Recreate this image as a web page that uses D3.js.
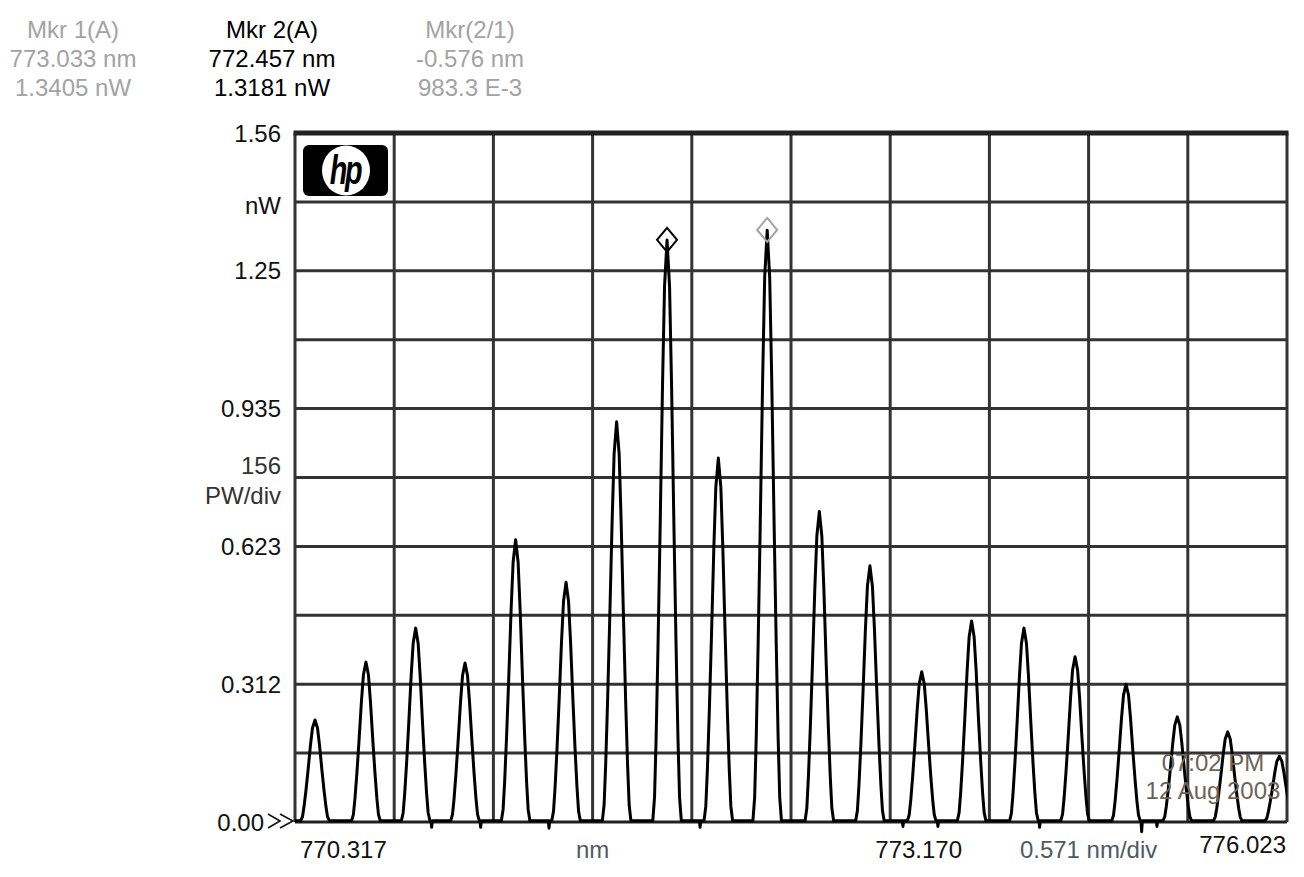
<!DOCTYPE html>
<html><head><meta charset="utf-8">
<script src="https://cdn.jsdelivr.net/npm/d3@7"></script>
<style>
body{margin:0;background:#fff;}
svg{display:block;font-family:"Liberation Sans",Arial,sans-serif;}
</style>
</head><body>
<svg id="chart" width="1304" height="877"></svg>
<script>
// ---------- data ----------
const xDomain = [770.317, 776.023];          // nm, start / stop
const yDomain = [0, 1.56];                   // nW
const xDivisions = 10;
const yDivisions = 10;
const xLabelStart = "770.317";
const xLabelCenter = "773.170";
const xLabelStop = "776.023";
const xUnitLabel = "nm";
const xScaleLabel = "0.571 nm/div";
const yTickDivs = [0, 2, 4, 6, 8, 10];
const yTickLabels = ["0.00", "0.312", "0.623", "0.935", "1.25", "1.56"];
const yUnitLabel = "nW";
const yScaleLabel = ["156", "PW/div"];
const timeStamp = ["07:02 PM", "12 Aug 2003"];

// peak centres (nm) and peak powers (nW)
const peakWavelengths = [770.432, 770.725, 771.011, 771.295, 771.586, 771.876, 772.167, 772.457, 772.752, 773.033,
                         773.333, 773.624, 773.922, 774.209, 774.510, 774.804, 775.097, 775.392, 775.682, 775.979];
const peakPowers      = [0.231, 0.362, 0.439, 0.360, 0.639, 0.543, 0.906, 1.318, 0.824, 1.340,
                         0.703, 0.580, 0.340, 0.455, 0.439, 0.374, 0.312, 0.238, 0.204, 0.149];
// line shape of one peak: offset from centre (nm) and level relative to peak
const profileOffsets = [-0.082, -0.072, -0.063, -0.052, -0.040, -0.026, -0.0144, 0, 0.0144, 0.026, 0.040, 0.052, 0.063, 0.072, 0.082];
const profileLevels  = [0, 0.04, 0.14, 0.30, 0.50, 0.75, 0.92, 1, 0.92, 0.75, 0.50, 0.30, 0.14, 0.04, 0];
const baselineLevel = 0.003;
// small downward noise spikes on the baseline
const dipWavelengths = [771.103, 771.385, 771.778, 772.647, 773.814, 774.015, 774.600, 775.187, 775.275];
const dipPowers      = [-0.012, -0.012, -0.014, -0.012, -0.010, -0.010, -0.012, -0.022, -0.010];

// markers
const markerNames = ["Mkr 1(A)", "Mkr 2(A)"];
const markerWavelengths = [773.033, 772.457];
const markerPowers = [1.3405, 1.3181];
const markerColors = ["#a3a3a3", "#000000"];

// ---------- layout ----------
const svg = d3.select("#chart");
const L = 295, R = 1287, T = 133, B = 822;
const x = d3.scaleLinear().domain(xDomain).range([L, R]);
const y = d3.scaleLinear().domain(yDomain).range([B, T]);
const xDiv = d3.scaleLinear().domain([0, xDivisions]).range([L, R]);
const yDiv = d3.scaleLinear().domain([0, yDivisions]).range([B, T]);
const fmtSigned = f => v => d3.format(f)(v).replace("\u2212", "-");

// ---------- marker readout ----------
const readCols = [
  {cx: 73, color: markerColors[0], lines: [markerNames[0], fmtSigned(".3f")(markerWavelengths[0]) + " nm", fmtSigned(".4f")(markerPowers[0]) + " nW"]},
  {cx: 272, color: markerColors[1], lines: [markerNames[1], fmtSigned(".3f")(markerWavelengths[1]) + " nm", fmtSigned(".4f")(markerPowers[1]) + " nW"]},
  {cx: 470, color: markerColors[0], lines: ["Mkr(2/1)",
     fmtSigned(".3f")(markerWavelengths[1] - markerWavelengths[0]) + " nm",
     fmtSigned(".1f")(markerPowers[1] / markerPowers[0] * 1000) + " E-3"]}
];
const rowY = [38, 67, 96];
readCols.forEach(c => {
  c.lines.forEach((t, i) => {
    svg.append("text").attr("x", c.cx).attr("y", rowY[i]).attr("text-anchor", "middle")
      .attr("font-size", 24).attr("fill", c.color).text(t);
  });
});

// ---------- grid ----------
const grid = svg.append("g");
d3.range(1, yDivisions).forEach(i => {
  grid.append("line").attr("x1", L).attr("x2", R).attr("y1", yDiv(i)).attr("y2", yDiv(i))
    .attr("stroke", "#333").attr("stroke-width", 3);
});
d3.range(1, xDivisions).forEach(i => {
  grid.append("line").attr("y1", T).attr("y2", B).attr("x1", xDiv(i)).attr("x2", xDiv(i))
    .attr("stroke", "#333").attr("stroke-width", 3);
});
// frame
grid.append("line").attr("x1", L).attr("x2", L).attr("y1", T).attr("y2", B).attr("stroke", "#333").attr("stroke-width", 3);
grid.append("line").attr("x1", R).attr("x2", R).attr("y1", T).attr("y2", B).attr("stroke", "#333").attr("stroke-width", 3);
grid.append("line").attr("x1", L).attr("x2", R).attr("y1", B).attr("y2", B).attr("stroke", "#222").attr("stroke-width", 3);
grid.append("line").attr("x1", L - 1.5).attr("x2", R + 1.5).attr("y1", T).attr("y2", T).attr("stroke", "#222").attr("stroke-width", 5);

// ---------- HP logo ----------
const logo = svg.append("g");
logo.append("rect").attr("x", L + 8).attr("y", T + 12).attr("width", 85).attr("height", 51).attr("rx", 6).attr("fill", "#000");
logo.append("ellipse").attr("cx", L + 51).attr("cy", T + 37.5).attr("rx", 24).attr("ry", 25).attr("fill", "#fff");
logo.append("text").attr("x", L + 50).attr("y", T + 50).attr("text-anchor", "middle")
  .attr("font-size", 36).attr("font-weight", "bold").attr("font-style", "italic").attr("fill", "#000")
  .attr("letter-spacing", -3).attr("transform", `translate(${L + 50},${T + 40}) scale(0.8,1.15) translate(${-(L + 50)},${-(T + 40)})`)
  .text("hp");

// ---------- y labels ----------
yTickDivs.forEach((d, i) => {
  svg.append("text").attr("x", i === 0 ? 264 : 281).attr("y", yDiv(d)).attr("dy", "0.36em")
    .attr("text-anchor", "end").attr("font-size", 24).attr("fill", "#111").text(yTickLabels[i]);
});
svg.append("text").attr("x", 281).attr("y", yDiv(9) + 3).attr("dy", "0.36em").attr("text-anchor", "end")
  .attr("font-size", 24).attr("fill", "#111").text(yUnitLabel);
svg.append("text").attr("x", 281).attr("y", yDiv(5) - 12).attr("dy", "0.36em").attr("text-anchor", "end")
  .attr("font-size", 24).attr("fill", "#333").text(yScaleLabel[0]);
svg.append("text").attr("x", 281).attr("y", yDiv(5) + 18).attr("dy", "0.36em").attr("text-anchor", "end")
  .attr("font-size", 24).attr("fill", "#333").text(yScaleLabel[1]);
// reference level chevrons
svg.append("path")
  .attr("d", `M${L - 27},${B - 8} L${L - 15},${B - 1} L${L - 27},${B + 6} M${L - 15},${B - 8} L${L - 2},${B - 1} L${L - 15},${B + 6}`)
  .attr("fill", "none").attr("stroke", "#111").attr("stroke-width", 1.6);

// ---------- x labels ----------
const xLabY = 858;
svg.append("text").attr("x", L + 5).attr("y", xLabY).attr("font-size", 24).attr("fill", "#111").text(xLabelStart);
svg.append("text").attr("x", xDiv(3)).attr("y", xLabY).attr("text-anchor", "middle").attr("font-size", 24).attr("fill", "#4f5a64").text(xUnitLabel);
svg.append("text").attr("x", xDiv(5.85)).attr("y", xLabY).attr("font-size", 24).attr("fill", "#111").text(xLabelCenter);
svg.append("text").attr("x", xDiv(8)).attr("y", xLabY).attr("text-anchor", "middle").attr("font-size", 24).attr("fill", "#4f5a64").text(xScaleLabel);
svg.append("text").attr("x", R - 1).attr("y", xLabY - 5).attr("text-anchor", "end").attr("font-size", 24).attr("fill", "#111").text(xLabelStop);

// ---------- trace ----------
const pts = [[xDomain[0], baselineLevel]];
peakWavelengths.forEach((w, i) => {
  profileOffsets.forEach((o, j) => {
    pts.push([w + o, baselineLevel + (peakPowers[i] - baselineLevel) * profileLevels[j]]);
  });
});
dipWavelengths.forEach((w, i) => {
  pts.push([w - 0.004, baselineLevel]);
  pts.push([w, dipPowers[i]]);
  pts.push([w + 0.004, baselineLevel]);
});
pts.sort((a, b) => a[0] - b[0]);

svg.append("clipPath").attr("id", "plotClip").append("rect")
  .attr("x", L).attr("y", T - 40).attr("width", R - L).attr("height", B - T + 60);
svg.append("path").datum(pts)
  .attr("clip-path", "url(#plotClip)")
  .attr("d", d3.line().x(d => x(d[0])).y(d => y(d[1])))
  .attr("fill", "none").attr("stroke", "#000").attr("stroke-width", 3).attr("stroke-linejoin", "round");

// ---------- time stamp ----------
svg.append("text").attr("x", 1213).attr("y", 762).attr("dy", "0.36em").attr("text-anchor", "middle")
  .attr("font-size", 24).attr("fill", "#6e6357").text(timeStamp[0]);
svg.append("text").attr("x", 1213).attr("y", 790).attr("dy", "0.36em").attr("text-anchor", "middle")
  .attr("font-size", 24).attr("fill", "#6e6357").text(timeStamp[1]);

// ---------- marker diamonds ----------
markerWavelengths.forEach((w, i) => {
  const cx = x(w), cy = y(markerPowers[i]);
  svg.append("path")
    .attr("d", `M${cx},${cy - 12} L${cx + 10},${cy} L${cx},${cy + 12} L${cx - 10},${cy} Z`)
    .attr("fill", "none").attr("stroke", markerColors[i]).attr("stroke-width", 2);
});
</script>
</body></html>
